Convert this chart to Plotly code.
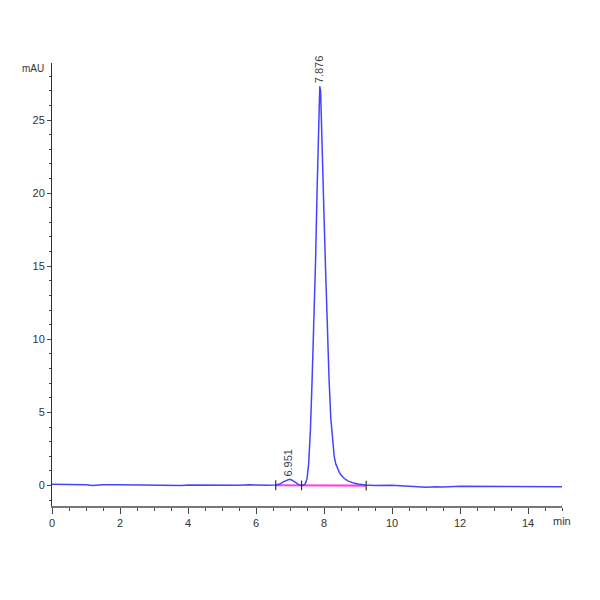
import plotly.graph_objects as go

# chromatogram trace (time in min, absorbance in mAU)
time = [0.0, 0.5, 1.0, 1.2, 1.5, 2.0, 2.5, 3.0, 3.5, 3.8, 4.0, 4.5, 5.0, 5.5,
        5.8, 6.0, 6.3, 6.58, 6.7, 6.8, 6.9, 6.98, 7.05, 7.15, 7.25, 7.34,
        7.40, 7.45, 7.50, 7.55, 7.60, 7.65, 7.70, 7.75, 7.80, 7.85, 7.876,
        7.90, 7.95, 8.00, 8.05, 8.10, 8.15, 8.20, 8.25, 8.30, 8.35, 8.40,
        8.45, 8.50, 8.60, 8.70, 8.80, 8.90, 9.00, 9.20, 9.50, 10.0, 10.5,
        11.0, 11.3, 11.5, 12.0, 12.5, 13.0, 13.5, 14.0, 14.5, 15.0]
mau = [0.08, 0.08, 0.05, 0.0, 0.05, 0.05, 0.03, 0.02, 0.03, 0.0, 0.03, 0.02,
       0.0, 0.02, 0.05, 0.03, 0.02, 0.03, 0.1, 0.25, 0.38, 0.43, 0.38, 0.2,
       0.08, 0.0, 0.03, 0.12, 0.45, 1.5, 3.8, 7.2, 11.0, 15.2, 20.5, 25.3,
       27.3, 27.0, 23.5, 18.5, 14.5, 10.5, 7.2, 4.6, 3.0, 2.0, 1.45, 1.1,
       0.9, 0.72, 0.48, 0.32, 0.22, 0.15, 0.1, 0.03, 0.0, 0.02, -0.05, -0.12,
       -0.08, -0.1, -0.05, -0.05, -0.08, -0.07, -0.08, -0.08, -0.08]

# integration baseline
base_t = [6.58, 7.34, 9.24]
base_v = [0.02, 0.01, 0.0]

# peak labels
peak_t = [6.951, 7.876]
peak_v = [0.43, 27.3]
peak_lbl = ["6.951", "7.876"]

fig = go.Figure()
fig.add_trace(go.Scatter(x=base_t, y=base_v, mode="lines",
                         line=dict(color="#ff44dd", width=2.2)))
fig.add_trace(go.Scatter(x=time, y=mau, mode="lines",
                         line=dict(color="#4444ff", width=1.5)))
fig.add_trace(go.Scatter(x=base_t, y=base_v, mode="markers",
                         marker=dict(symbol="line-ns", size=7,
                                     line=dict(color="#333333", width=1.2))))

for t, v, s in zip(peak_t, peak_v, peak_lbl):
    fig.add_annotation(x=t, y=v, text=s, showarrow=False, textangle=-90,
                       yanchor="bottom", xanchor="center", yshift=1,
                       font=dict(size=11, color="#444444",
                                 family="Liberation Sans Narrow, Liberation Sans"))

fig.add_annotation(xref="paper", yref="paper", x=0, y=1, text="mAU",
                   showarrow=False, xanchor="right", yanchor="top",
                   xshift=-6, yshift=2,
                   font=dict(size=10, color="#333333",
                             family="Liberation Sans Narrow, Liberation Sans"))
fig.add_annotation(xref="x", yref="paper", x=15, y=0, text="min",
                   showarrow=False, xanchor="center", yanchor="top",
                   yshift=-7,
                   font=dict(size=11, color="#333333",
                             family="Liberation Sans Narrow, Liberation Sans"))

fig.update_layout(
    width=600, height=600,
    margin=dict(l=44, r=46, t=55, b=102),
    plot_bgcolor="white", paper_bgcolor="white",
    showlegend=False,
    font=dict(family="Liberation Sans Narrow, Liberation Sans", size=11,
              color="#333333"),
)
fig.update_xaxes(range=[0, 15], showgrid=False, zeroline=False,
                 showline=True, linecolor="#777777", linewidth=2,
                 ticks="outside", ticklen=6, tickcolor="#444444",
                 tickvals=[0, 2, 4, 6, 8, 10, 12, 14],
                 minor=dict(dtick=0.5, ticks="outside", ticklen=3,
                            tickcolor="#444444"))
fig.update_yaxes(range=[-1.4, 28.9], showgrid=False, zeroline=False,
                 showline=True, linecolor="#333333", linewidth=1,
                 ticks="outside", ticklen=4, tickcolor="#444444",
                 tickvals=[0, 5, 10, 15, 20, 25],
                 minor=dict(dtick=1, ticks="outside", ticklen=2,
                            tickcolor="#444444"))

fig.write_html("out.html")
